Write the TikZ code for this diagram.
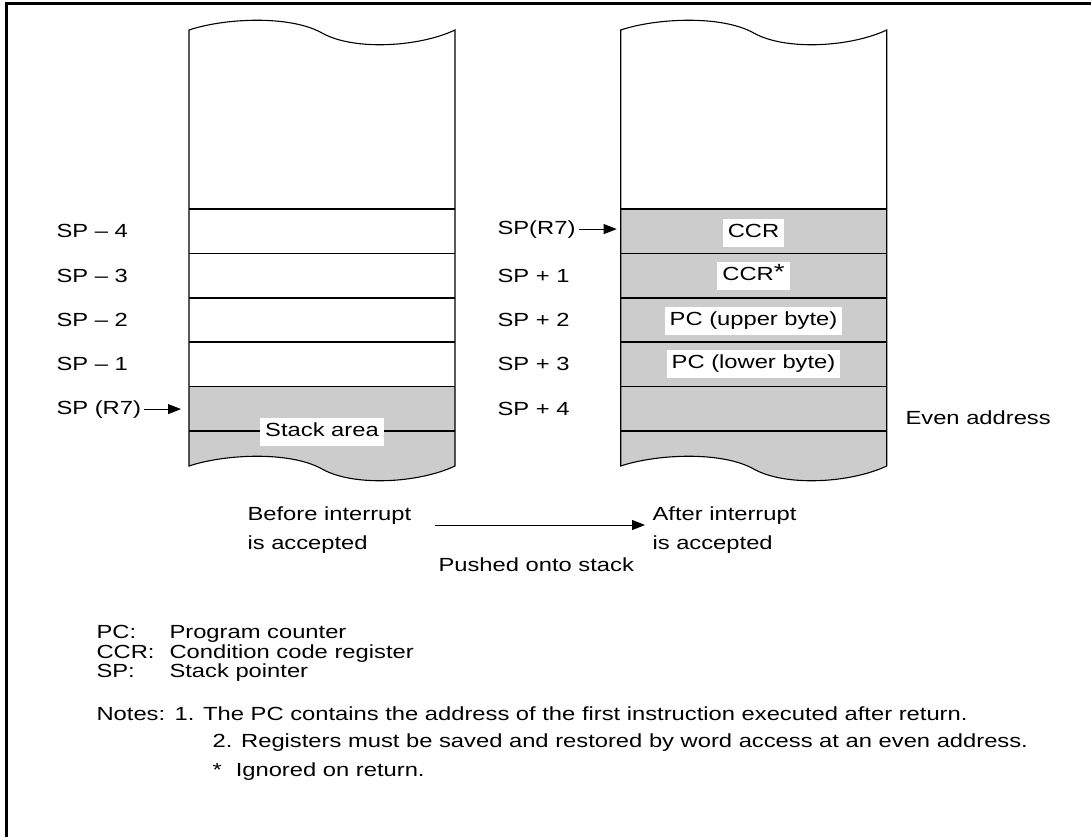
\documentclass[tikz,border=0pt]{standalone}
\usepackage{fontspec}
\setmainfont{Liberation Sans}[FakeStretch=1.25]
\usetikzlibrary{arrows.meta,positioning}
\definecolor{stackgray}{HTML}{CCCCCC}

\begin{document}
\begin{tikzpicture}[x=1pt,y=-1pt,line width=1.1pt]
  \tikzset{lbl/.style={inner sep=0pt,font=\fontsize{19}{29}\selectfont},
    cellbox/.style={fill=white,inner xsep=5pt,inner ysep=4.5pt,text height=14pt,text depth=5pt,font=\fontsize{19}{22}\selectfont},
    ptr/.style={-{Triangle[length=13pt,width=10pt]},line width=0.9pt}}
  \useasboundingbox (0,0) rectangle (1091,837);
  \draw[line width=3pt] (6,837) -- (6,4) -- (1091,4);
  % memory columns: left edge / top of the gray part
  \foreach \cx/\gy in {189/356.7,620.7/179} {
    \begin{scope}[shift={(\cx,30)}]
      \fill[stackgray] (0,\gy) -- (266,\gy) -- (266,436) .. controls (230,453) and (165,457) .. (133,439) .. controls (101,421) and (36,424) .. (0,436) -- cycle;
      \foreach \ry in {179,223.5,268,312,356.7,401}
        \draw (0,\ry) -- (266,\ry);
      \draw (0,0) .. controls (36,-12) and (101,-15) .. (133,3) .. controls (165,21) and (230,17) .. (266,0) -- (266,436) .. controls (230,453) and (165,457) .. (133,439) .. controls (101,421) and (36,424) .. (0,436) -- cycle;
    \end{scope}
  }
  \coordinate (colL) at (189,0);
  \coordinate (colR) at (620.7,0);

  % before
  \node[lbl,anchor=base west] (spm4) at (56,237.5) {SP – 4};
  \node[lbl,anchor=base west] (spm3) at (56,282) {SP – 3};
  \node[lbl,anchor=base west] (spm2) at (56,326.5) {SP – 2};
  \node[lbl,anchor=base west] (spm1) at (56,370.5) {SP – 1};
  \node[lbl,anchor=base west] (spL) at (56,414) {SP (R7)};
  \draw[ptr,shorten <=2pt,shorten >=8pt] (spL.east) -- (spL.east -| colL);
  \node[cellbox] (stack) at (322,431.5) {Stack area};

  % after
  \node[lbl,anchor=base west] (spR) at (497,234) {SP(R7)};
  \draw[ptr,shorten <=3pt,shorten >=4pt] (spR.east) -- (spR.east -| colR);
  \node[lbl,anchor=base west] (spp1) at (497,282) {SP + 1};
  \node[lbl,anchor=base west] (spp2) at (497,326.5) {SP + 2};
  \node[lbl,anchor=base west] (spp3) at (497,370.5) {SP + 3};
  \node[lbl,anchor=base west] (spp4) at (497,415) {SP + 4};
  \node[lbl,anchor=base west] (even) at (905,424) {Even address};
  \node[cellbox] (ccr) at (753.5,233) {CCR};
  \node[cellbox] (ccrx) at (753.5,275.5) {CCR\raisebox{1pt}{\fontsize{22}{22}\selectfont *}};
  \node[cellbox] (pcu) at (753.5,320.5) {PC (upper byte)};
  \node[cellbox] (pcl) at (753.5,364) {PC (lower byte)};

  % push
  \node[lbl,align=left,anchor=west] (before) at (247,530) {Before interrupt\\is accepted};
  \node[lbl,align=left,anchor=west] (after) at (652,530) {After interrupt\\is accepted};
  \draw[ptr,shorten <=23pt,shorten >=7pt] ([yshift=5pt]before.east) -- ([yshift=5pt]after.west);
  \node[lbl,anchor=base west] (push) at (438,571.5) {Pushed onto stack};

  % legend and notes
  \node[lbl,anchor=base west] (pc) at (96,638.5) {\makebox[73pt][l]{PC:}Program counter};
  \node[lbl,anchor=base west] (ccrk) at (96,658.5) {\makebox[73pt][l]{CCR:}Condition code register};
  \node[lbl,anchor=base west] (spk) at (96,677.5) {\makebox[73pt][l]{SP:}Stack pointer};
  \node[lbl,anchor=base west] (notes) at (96,720.5) {Notes:};
  \node[lbl,anchor=base west] (note1) at (174,720.5) {1. The PC contains the address of the first instruction executed after return.};
  \node[lbl,anchor=base west] (note2) at (212,747.5) {2. Registers must be saved and restored by word access at an even address.};
  \node[lbl,anchor=base west] (ign) at (212,776.5) {*\hspace{14pt}Ignored on return.};
\end{tikzpicture}
\end{document}
